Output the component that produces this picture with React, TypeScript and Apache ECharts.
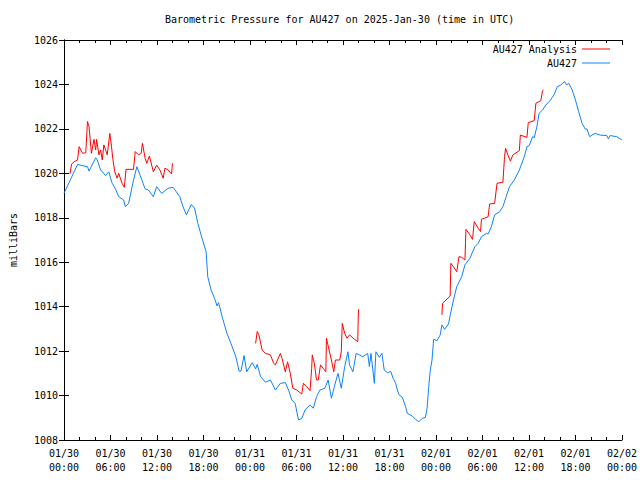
import React, { useEffect, useRef } from "react";
import * as echarts from "echarts";

// Hours since 2025-01-30 00:00 UTC
const blueHours = [
  0, 1.75, 2.3, 3.03, 3.23, 4.09, 4.3, 4.72, 5.36, 5.78, 6.22, 6.64, 7.06, 7.7, 7.91, 8.34, 8.97, 9.41, 9.83,
  10.47, 10.89, 11.53, 11.96, 12.6, 13.44, 14.08, 14.94, 15.36, 15.79, 16.43, 16.85, 17.27, 17.71, 18.34, 18.55,
  18.98, 19.4, 19.75, 19.95, 20.46, 21.03, 21.54, 22.17, 22.6, 22.85, 23.23, 23.58, 24.29, 24.73, 24.93, 25.37,
  26.0, 26.64, 27.28, 27.92, 28.56, 28.98, 29.4, 29.83, 30.26, 30.68, 31.11, 31.75, 32.17, 32.59, 33.03, 33.66,
  34.09, 34.51, 34.94, 35.36, 35.78, 36.22, 36.64, 36.85, 37.28, 37.7, 38.13, 38.55, 39.19, 39.41, 39.61, 40.05,
  40.25, 40.69, 41.02, 41.32, 41.74, 42.17, 42.47, 42.8, 43.02, 43.24, 43.66, 44.08, 44.3, 44.94, 45.36, 45.79,
  46.21, 46.63, 46.85, 47.07, 47.27, 47.49, 47.7, 48.13, 48.55, 48.77, 49.11, 49.62, 49.83, 50.26, 50.68, 51.32,
  51.74, 52.38, 53.02, 53.45, 53.87, 54.51, 54.73, 55.15, 55.57, 56.21, 56.64, 57.06, 57.48, 58.12, 58.76, 59.4,
  59.74, 60.04, 60.47, 60.68, 61.02, 61.31, 61.75, 62.17, 62.72, 63.23, 63.66, 64.09, 64.6, 64.85, 65.14, 65.58,
  66.0, 66.42, 66.85, 67.28, 67.49, 67.83, 68.13, 68.55, 69.19, 70.04, 70.25, 70.47, 71.32, 72,
];
const blueValues = [
  1019.1, 1020.4, 1020.35, 1020.3, 1020.1, 1020.7, 1020.6, 1020.15, 1019.9, 1020.07, 1019.55, 1019.3, 1018.95,
  1018.8, 1018.5, 1018.65, 1019.7, 1020.3, 1019.9, 1019.3, 1019.25, 1018.95, 1019.4, 1019.1, 1019.33, 1019.37,
  1018.95, 1018.5, 1018.13, 1018.6, 1018.43, 1017.75, 1017.2, 1016.47, 1015.35, 1014.75, 1014.4, 1014.03, 1014.18,
  1013.48, 1012.8, 1012.35, 1011.75, 1011.1, 1011.1, 1011.8, 1011.07, 1011.48, 1011.2, 1011.4, 1010.85, 1010.6,
  1010.7, 1010.25, 1010.55, 1010.58, 1010.25, 1009.8, 1009.65, 1008.9, 1008.97, 1009.35, 1009.58, 1009.43, 1009.95,
  1010.25, 1010.33, 1010.7, 1009.88, 1010.47, 1011.0, 1010.33, 1011.3, 1011.97, 1011.38, 1011.07, 1011.9, 1011.83,
  1011.75, 1011.9, 1011.3, 1011.9, 1010.55, 1011.97, 1011.72, 1011.9, 1011.15, 1011.03, 1011.08, 1010.78, 1010.55,
  1010.25, 1010.03, 1009.92, 1009.5, 1009.2, 1009.08, 1008.93, 1008.82, 1008.97, 1009.02, 1009.42, 1010.4, 1011.15,
  1011.6, 1012.53, 1012.47, 1012.73, 1013.18, 1012.98, 1013.22, 1013.6, 1014.3, 1014.9, 1015.35, 1015.88, 1016.18,
  1016.7, 1016.85, 1017.15, 1017.3, 1017.27, 1017.6, 1018.13, 1018.27, 1018.5, 1018.95, 1019.4, 1019.7, 1020.15,
  1020.75, 1021.2, 1021.25, 1021.65, 1021.6, 1022.1, 1022.7, 1022.85, 1023.07, 1023.27, 1023.53, 1023.9, 1023.97,
  1024.13, 1023.98, 1024.05, 1023.75, 1023.3, 1022.77, 1022.25, 1021.98, 1022.0, 1021.65, 1021.72, 1021.8, 1021.72,
  1021.7, 1021.55, 1021.7, 1021.65, 1021.5,
];

const redHours1 = [
  0.77, 0.98, 1.31, 1.75, 1.95, 2.17, 2.39, 2.81, 3.03, 3.23, 3.54, 3.87, 4.09, 4.21, 4.51, 4.72, 4.94, 5.14, 5.58,
  5.91, 6.13, 6.29, 6.55, 6.86, 7.06, 7.49, 7.79, 8.0, 8.97, 9.19, 9.61, 9.96, 10.12, 10.47, 10.68, 11.02, 11.53,
  11.96, 12.38, 12.8, 13.02, 13.44, 13.88, 14.0,
];
const redValues1 = [
  1019.97, 1020.42, 1020.52, 1020.6, 1021.2, 1021.05, 1020.9, 1020.93, 1022.33, 1022.1, 1020.9, 1021.53, 1021.05,
  1021.53, 1020.83, 1021.05, 1020.6, 1021.28, 1020.83, 1021.8, 1021.2, 1020.68, 1020.07, 1019.78, 1020.0, 1019.55,
  1019.37, 1020.18, 1020.18, 1020.98, 1020.83, 1020.9, 1021.35, 1020.68, 1020.45, 1020.78, 1020.07, 1020.37,
  1020.15, 1019.78, 1020.23, 1020.15, 1019.97, 1020.45,
];
const redHours2 = [
  24.73, 24.93, 25.15, 25.57, 26.0, 26.64, 27.06, 27.28, 27.92, 28.13, 28.56, 28.85, 29.2, 29.53, 30.04, 30.68,
  30.89, 31.32, 31.75, 31.96, 32.04, 32.3, 32.59, 32.81, 33.1, 33.45, 33.79, 33.87, 34.21, 34.51, 34.81, 35.02,
  35.58, 35.78, 35.91, 36.22, 36.51, 36.85, 37.49, 37.91, 37.95, 38.0,
];
const redValues2 = [
  1012.35, 1012.88, 1012.73, 1012.05, 1011.9, 1011.83, 1011.45, 1011.38, 1011.9, 1011.68, 1011.07, 1011.52, 1011.0,
  1010.33, 1010.25, 1010.07, 1010.55, 1010.4, 1010.22, 1011.22, 1011.83, 1011.45, 1010.7, 1010.7, 1011.38, 1011.22,
  1011.07, 1012.58, 1012.05, 1011.6, 1011.07, 1011.6, 1011.6, 1011.97, 1013.25, 1012.8, 1012.58, 1012.73, 1012.53,
  1012.43, 1013.18, 1013.88,
];
const redHours3 = [
  48.77, 48.85, 49.83, 49.92, 50.26, 50.68, 50.97, 51.32, 51.74, 51.87, 52.38, 52.72, 52.94, 53.45, 53.75, 53.87,
  54.73, 54.93, 55.57, 55.88, 56.64, 56.85, 56.98, 57.28, 57.61, 57.92, 58.76, 58.89, 59.74, 59.91, 60.68, 60.89,
  61.53, 61.75, 61.88,
];
const redValues3 = [
  1013.63, 1014.15, 1014.48, 1015.95, 1015.8, 1015.57, 1016.25, 1016.22, 1016.1, 1017.48, 1017.23, 1017.03, 1017.83,
  1017.53, 1017.38, 1017.93, 1018.05, 1018.62, 1018.65, 1019.55, 1019.6, 1020.75, 1021.13, 1020.83, 1020.55,
  1020.83, 1021.02, 1021.72, 1021.62, 1022.28, 1022.37, 1023.15, 1023.27, 1023.72, 1023.75,
];

const xTickLabels = [
  "01/30\n00:00", "01/30\n06:00", "01/30\n12:00", "01/30\n18:00",
  "01/31\n00:00", "01/31\n06:00", "01/31\n12:00", "01/31\n18:00",
  "02/01\n00:00", "02/01\n06:00", "02/01\n12:00", "02/01\n18:00",
  "02/02\n00:00",
];

const RED = "#ff0000";
const BLUE = "#0c82ff";
const FONT = "'DejaVu Sans Mono', 'Liberation Mono', monospace";

function zip(h: number[], v: number[]) {
  return h.map((x, i) => [x, v[i]]);
}

export default function App() {
  const ref = useRef<HTMLDivElement>(null);
  useEffect(() => {
    document.body.style.margin = "0";
    const chart = echarts.init(ref.current!, null, { renderer: "svg" });
    const redData: any[] = [
      ...zip(redHours1, redValues1),
      [19, "-"],
      ...zip(redHours2, redValues2),
      [43, "-"],
      ...zip(redHours3, redValues3),
    ];
    const xCommon = {
      type: "value",
      min: 0,
      max: 72,
      interval: 6,
      axisLine: { show: true, lineStyle: { color: "#000", width: 1 } },
      axisTick: { show: true, inside: true, length: 5, lineStyle: { color: "#000" } },
      minorTick: { show: true, splitNumber: 3, length: 3, lineStyle: { color: "#000" } },
      splitLine: { show: false },
    };
    const yCommon = {
      type: "value",
      min: 1008,
      max: 1026,
      interval: 2,
      axisLine: { show: true, lineStyle: { color: "#000", width: 1 } },
      axisTick: { show: true, inside: true, length: 5, lineStyle: { color: "#000" } },
      splitLine: { show: false },
    };
    chart.setOption({
      animation: false,
      backgroundColor: "#fff",
      title: {
        text: "Barometric Pressure for AU427 on 2025-Jan-30 (time in UTC)",
        left: 165,
        top: 14,
        padding: 0,
        textStyle: { fontFamily: FONT, fontSize: 10, fontWeight: "normal", color: "#000" },
      },
      legend: {
        orient: "vertical",
        right: 30,
        top: 43,
        align: "right",
        itemWidth: 28,
        itemHeight: 1,
        itemGap: 2,
        padding: 0,
        textStyle: { fontFamily: FONT, fontSize: 10, color: "#000", lineHeight: 12 },
        data: [
          { name: "AU427 Analysis", icon: "rect", itemStyle: { color: RED } },
          { name: "AU427", icon: "rect", itemStyle: { color: BLUE } },
        ],
      },
      grid: { left: 58, right: 18, top: 40, bottom: 40, containLabel: false },
      xAxis: [
        {
          ...xCommon,
          position: "bottom",
          axisLabel: {
            show: true,
            margin: 6,
            fontFamily: FONT,
            fontSize: 10,
            lineHeight: 14,
            color: "#000",
            formatter: (v: number) => xTickLabels[Math.round(v / 6)] ?? "",
          },
        },
        { ...xCommon, position: "top", axisLabel: { show: false } },
      ],
      yAxis: [
        {
          ...yCommon,
          position: "left",
          name: "milliBars",
          nameLocation: "middle",
          nameRotate: 90,
          nameGap: 46,
          nameTextStyle: { fontFamily: FONT, fontSize: 10, color: "#000" },
          axisLabel: {
            show: true,
            margin: 6,
            fontFamily: FONT,
            fontSize: 10,
            color: "#000",
            formatter: (v: number) => String(v),
          },
        },
        { ...yCommon, position: "right", axisLabel: { show: false } },
      ],
      series: [
        {
          name: "AU427 Analysis",
          type: "line",
          xAxisIndex: 0,
          yAxisIndex: 0,
          symbol: "none",
          connectNulls: false,
          color: RED,
          lineStyle: { color: RED, width: 1 },
          data: redData,
        },
        {
          name: "AU427",
          type: "line",
          xAxisIndex: 0,
          yAxisIndex: 0,
          symbol: "none",
          color: BLUE,
          lineStyle: { color: BLUE, width: 1 },
          data: zip(blueHours, blueValues),
        },
      ],
    });
    return () => chart.dispose();
  }, []);
  return <div ref={ref} style={{ width: 640, height: 480 }} />;
}
